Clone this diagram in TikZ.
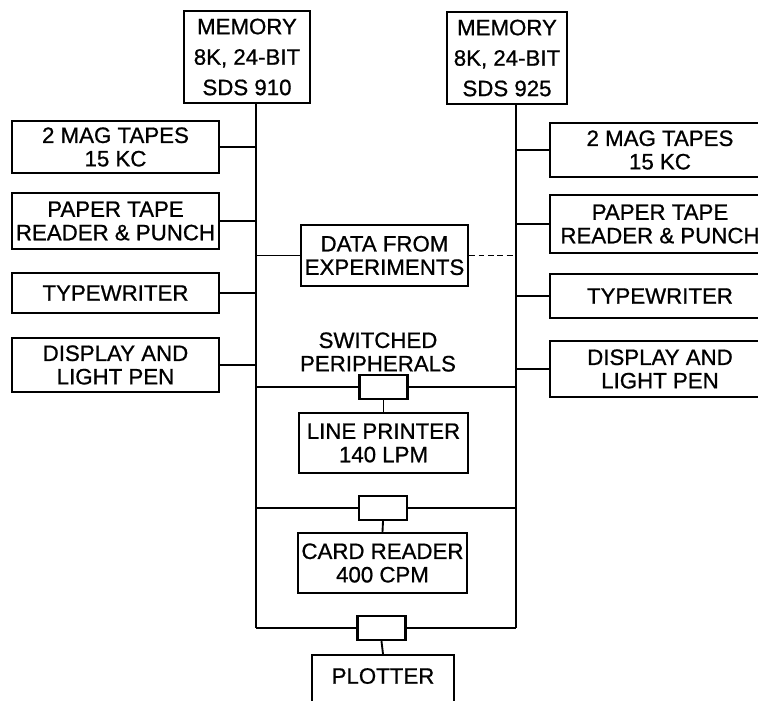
\documentclass[tikz,border=0pt]{standalone}
\usepackage{fontspec}
\setmainfont[FakeBold=0.8]{Liberation Sans}
\newlength\pxlen
\setlength\pxlen{0.03cm}
\begin{document}
\begin{tikzpicture}[x=0.03cm,y=-0.03cm,line width=1.6pt,
    unit/.style={draw,line width=2pt,inner sep=0pt,align=center,
      font=\fontsize{19}{20}\selectfont},
    cutunit/.style={unit,draw=none,minimum width=218\pxlen},
    mem/.style={unit,font=\fontsize{19}{26}\selectfont},
    switchbox/.style={draw,line width=2pt,inner sep=0pt,
      minimum width=48\pxlen,minimum height=24\pxlen}]
    \useasboundingbox (0,0) rectangle (758,700);
    \clip (0,0) rectangle (758,700);
    % memories and buses
    \node[mem,minimum width=126\pxlen,minimum height=92\pxlen] (mem1) at (247,57) {MEMORY\\8K, 24-BIT\\SDS 910};
    \node[mem,minimum width=120\pxlen,minimum height=92\pxlen] (mem2) at (507,58) {MEMORY\\8K, 24-BIT\\SDS 925};
    \coordinate (ltop) at (256,103);
    \coordinate (lbot) at (256,628);
    \coordinate (rtop) at (516,104);
    \coordinate (rbot) at (516,628);
    \draw (ltop) -- (lbot);
    \draw (rtop) -- (rbot);
    % left peripherals
    \node[unit,minimum width=207\pxlen,minimum height=52\pxlen] (ltape) at (115.5,147) {2 MAG TAPES\\15 KC};
    \node[unit,minimum width=207\pxlen,minimum height=56\pxlen] (lpaper) at (115.5,221) {PAPER TAPE\\READER \& PUNCH};
    \node[unit,minimum width=207\pxlen,minimum height=40\pxlen] (ltype) at (115.5,293) {TYPEWRITER};
    \node[unit,minimum width=207\pxlen,minimum height=54\pxlen] (ldisp) at (115.5,365) {DISPLAY AND\\LIGHT PEN};
    \foreach \p in {ltape,lpaper,ltype,ldisp}
      \draw (\p.east) -- (\p.east -| ltop);
    % right peripherals (cut by the page edge)
    \node[cutunit,minimum height=52\pxlen] (rtape) at (660,150) {2 MAG TAPES\\15 KC};
    \node[cutunit,minimum height=56\pxlen] (rpaper) at (660,224) {PAPER TAPE\\READER \& PUNCH};
    \node[cutunit,minimum height=42\pxlen] (rtype) at (660,296) {TYPEWRITER};
    \node[cutunit,minimum height=54\pxlen] (rdisp) at (660,369) {DISPLAY AND\\LIGHT PEN};
    \foreach \p in {rtape,rpaper,rtype,rdisp}{
      \draw[line width=2pt] ([xshift=20\pxlen]\p.north east) -- (\p.north west) -- (\p.south west) -- ([xshift=20\pxlen]\p.south east);
      \draw (\p.west) -- (\p.west -| rtop);
    }
    % experiments
    \node[unit,minimum width=167\pxlen,minimum height=61\pxlen] (data) at (384.5,255.5) {DATA FROM\\EXPERIMENTS};
    \draw (data.west) -- (data.west -| ltop);
    \draw[dash pattern=on 5pt off 3pt] (data.east) -- (data.east -| rtop);
    % switched peripherals
    \node[align=center,inner sep=0pt,font=\fontsize{19}{20}\selectfont] (swlabel) at (378,352) {SWITCHED\\PERIPHERALS};
    \node[switchbox] (sw1) at (383.5,387) {};
    \node[switchbox] (sw2) at (383,508) {};
    \node[switchbox] (sw3) at (381.5,628) {};
    \draw (sw1.west) -- (sw1.west -| ltop);
    \draw (sw1.east) -- (sw1.east -| rtop);
    \draw (sw2.west) -- (sw2.west -| ltop);
    \draw (sw2.east) -- (sw2.east -| rtop);
    \draw (lbot) -- (sw3.west);
    \draw (sw3.east) -- (rbot);
    \node[unit,minimum width=169\pxlen,minimum height=60\pxlen] (lprint) at (383.5,443) {LINE PRINTER\\140 LPM};
    \node[unit,minimum width=169\pxlen,minimum height=60\pxlen] (card) at (382.5,563) {CARD READER\\400 CPM};
    \node[unit,anchor=north,minimum width=142\pxlen,inner ysep=13\pxlen,text depth=40\pxlen] (plot) at (383,654) {PLOTTER};
    \draw (sw1.south) -- (lprint.north);
    \draw (sw2.south) -- (card.north);
    \draw (sw3.south) -- (plot.north);
\end{tikzpicture}
\end{document}
